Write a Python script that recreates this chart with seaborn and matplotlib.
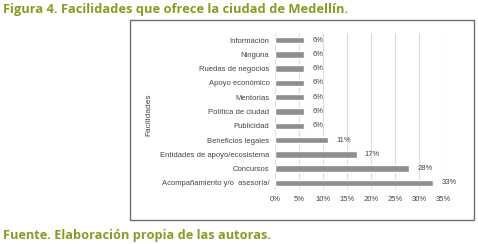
import matplotlib
matplotlib.use("Agg")
from matplotlib import pyplot as plt
from matplotlib.patches import Rectangle
import numpy as np
import pandas as pd
import seaborn as sns

# Chart data
categories = ['Información', 'Ninguna', 'Ruedas de negocios', 'Apoyo económico',
              'Mentorías', 'Política de ciudad', 'Publicidad', 'Beneficios legales',
              'Entidades de apoyo/ecosistema', 'Concursos',
              'Acompañamiento y/o  asesoría/']
values = [6, 6, 6, 6, 6, 6, 6, 11, 17, 28, 33]
xticks = [0, 5, 10, 15, 20, 25, 30, 35]

df = pd.DataFrame({'Facilidad': categories, 'Valor': values})

sns.set_style('white')
plt.rcParams['font.family'] = ['Liberation Sans', 'DejaVu Sans']

W, H = 478, 244
fig = plt.figure(figsize=(W / 100, H / 100), dpi=100)

# outer box around the chart
fig.patches.append(Rectangle((130 / W, 1 - 220 / H), 344 / W, 200 / H,
                             transform=fig.transFigure, fill=False,
                             edgecolor='#6e6e6e', linewidth=1.0))

ax = fig.add_axes([275 / W, 1 - 190 / H, (443 - 275) / W, (190 - 33) / H])
sns.barplot(data=df, y='Facilidad', x='Valor', orient='h', color='#8e8e8e',
            saturation=1, width=0.45, ax=ax)
ax.set_xlim(0, 35)
ax.set_xticks(xticks)
ax.set_xticklabels(['%d%%' % t for t in xticks], fontsize=5.5, color='#444444')
ax.tick_params(axis='y', labelsize=5.5, labelcolor='#444444', length=0, pad=4)
ax.tick_params(axis='x', length=0, pad=4)
ax.grid(axis='x', color='#dddddd', linewidth=0.8)
ax.set_axisbelow(True)
for s in ax.spines.values():
    s.set_visible(False)
ax.set_xlabel('')
ax.set_ylabel('')

for i, v in enumerate(values):
    ax.annotate('%d%%' % v, (v, i), xytext=(6, 0), textcoords='offset points',
                va='center', ha='left', fontsize=5.5, color='#444444')

fig.text(149 / W, 1 - 115 / H, 'Facilidades', rotation=90, ha='center', va='center',
         fontsize=6, color='#444444')

olive = '#8c9a1e'
fig.text(3 / W, 1 - 9 / H, 'Figura 4. Facilidades que ofrece la ciudad de Medellín.',
         fontsize=9.3, color=olive, fontweight='bold', ha='left', va='center',
         family=['Open Sans', 'DejaVu Sans'])
fig.text(3 / W, 1 - 235 / H, 'Fuente. Elaboración propia de las autoras.',
         fontsize=9.2, color=olive, fontweight='bold', ha='left', va='center',
         family=['Open Sans', 'DejaVu Sans'])

fig.savefig('out.png', dpi=100)
